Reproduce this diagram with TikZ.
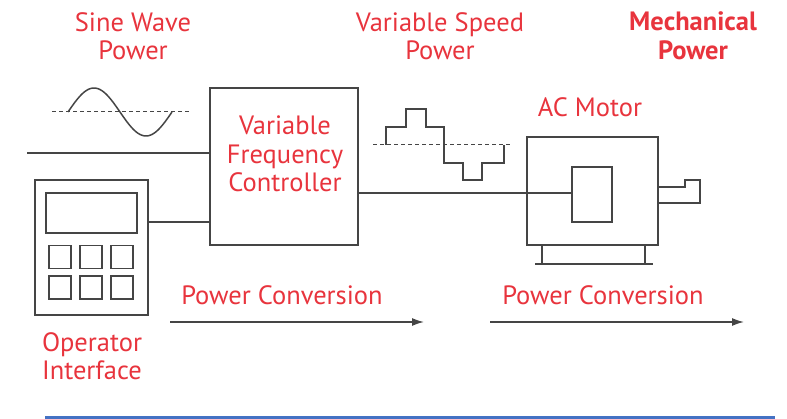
\documentclass[tikz,border=0pt]{standalone}
\usepackage{fontspec}
\setmainfont{PT Sans}
\usetikzlibrary{arrows.meta}
\definecolor{lblred}{HTML}{E8343D}
\definecolor{ink}{HTML}{454545}
\definecolor{rulebl}{HTML}{4472C4}
\begin{document}
\begin{tikzpicture}[x=1pt,y=-1pt,
  lbl/.style={text=lblred, font=\fontsize{26.5}{28.5}\selectfont, align=center, inner sep=0pt},
  shape box/.style={draw=ink, line width=1.5pt, inner sep=0pt, rectangle},
  wire/.style={draw=ink, line width=1.5pt},
  dashline/.style={draw=ink, line width=1pt, dash pattern=on 4pt off 3pt},
  flow/.style={draw=ink, line width=1.5pt, -{Latex[length=12pt,width=8pt]}}]
\useasboundingbox (0,0) rectangle (787,419);
% labels
\node[lbl] (sinelbl) at (133,36) {Sine Wave\\Power};
\node[lbl] (vsplbl) at (440,36) {Variable Speed\\Power};
\node[lbl, font=\fontsize{26.5}{28.5}\selectfont\bfseries] (mechlbl) at (693,36) {Mechanical\\Power};
\node[lbl] (motorlbl) at (590,107) {AC Motor};
\node[lbl] (oplbl) at (92,356) {Operator\\Interface};
\node[lbl] (pc1) at (282,295) {Power Conversion};
\node[lbl] (pc2) at (603,295) {Power Conversion};
% controller
\node[shape box, minimum width=148pt, minimum height=157pt] (vfc) at (284,166.5) {};
\node[lbl] (vfctext) at (285,154) {Variable\\Frequency\\Controller};
% operator interface
\node[shape box, minimum width=113pt, minimum height=135pt] (op) at (91.5,247.5) {};
\node[shape box, minimum width=91pt, minimum height=40pt] (screen) at (91.5,213) {};
\foreach \i/\x in {1/60,2/91,3/122}{
  \node[shape box, minimum width=22pt, minimum height=23pt] (ka\i) at (\x,257) {};
  \node[shape box, minimum width=22pt, minimum height=23pt] (kb\i) at (\x,287.5) {};
}
% motor
\node[shape box, minimum width=131pt, minimum height=108pt] (motor) at (592.5,191) {};
\node[shape box, minimum width=40pt, minimum height=55pt] (rotor) at (592,194.5) {};
\draw[wire] (motor.east |- 0,187) -- (685,187) -- (685,180) -- (700,180) -- (700,203) -- (motor.east |- 0,203);
\draw[wire] (542,245) -- (542,264);
\draw[wire] (645,245) -- (645,264);
\draw[wire] (535,264) -- (653,264);
% connectors
\coordinate (mains) at (27,153);
\draw[wire] (mains) -- (mains -| vfc.west);
\coordinate (oplink) at (0,222);
\draw[wire] (op.east |- oplink) -- (vfc.west |- oplink);
\coordinate (motlink) at (0,193);
\draw[wire] (vfc.east |- motlink) -- (rotor.west |- motlink);
% waves
\draw[dashline] (52,112) -- (190,112);
\draw[ink, line width=1.5pt] plot[domain=0:1, samples=80, smooth] ({68+104*\x}, {112-24*sin(360*\x)});
\draw[dashline] (373,145) -- (512,145);
\draw[wire] (386,145) -- (386,127) -- (406,127) -- (406,109) -- (426,109) -- (426,127) -- (444,127) -- (444,163) -- (463,163) -- (463,180) -- (482,180) -- (482,163) -- (504,163) -- (504,145);
% flow arrows
\coordinate (f1s) at (170,322); \coordinate (f1e) at (424,322);
\coordinate (f2s) at (490,322); \coordinate (f2e) at (744,322);
\draw[flow] (f1s) -- (f1e);
\draw[flow] (f2s) -- (f2e);
% bottom rule
\draw[rulebl, line width=3pt] (45,417.5) -- (775,417.5);
\end{tikzpicture}
\end{document}
